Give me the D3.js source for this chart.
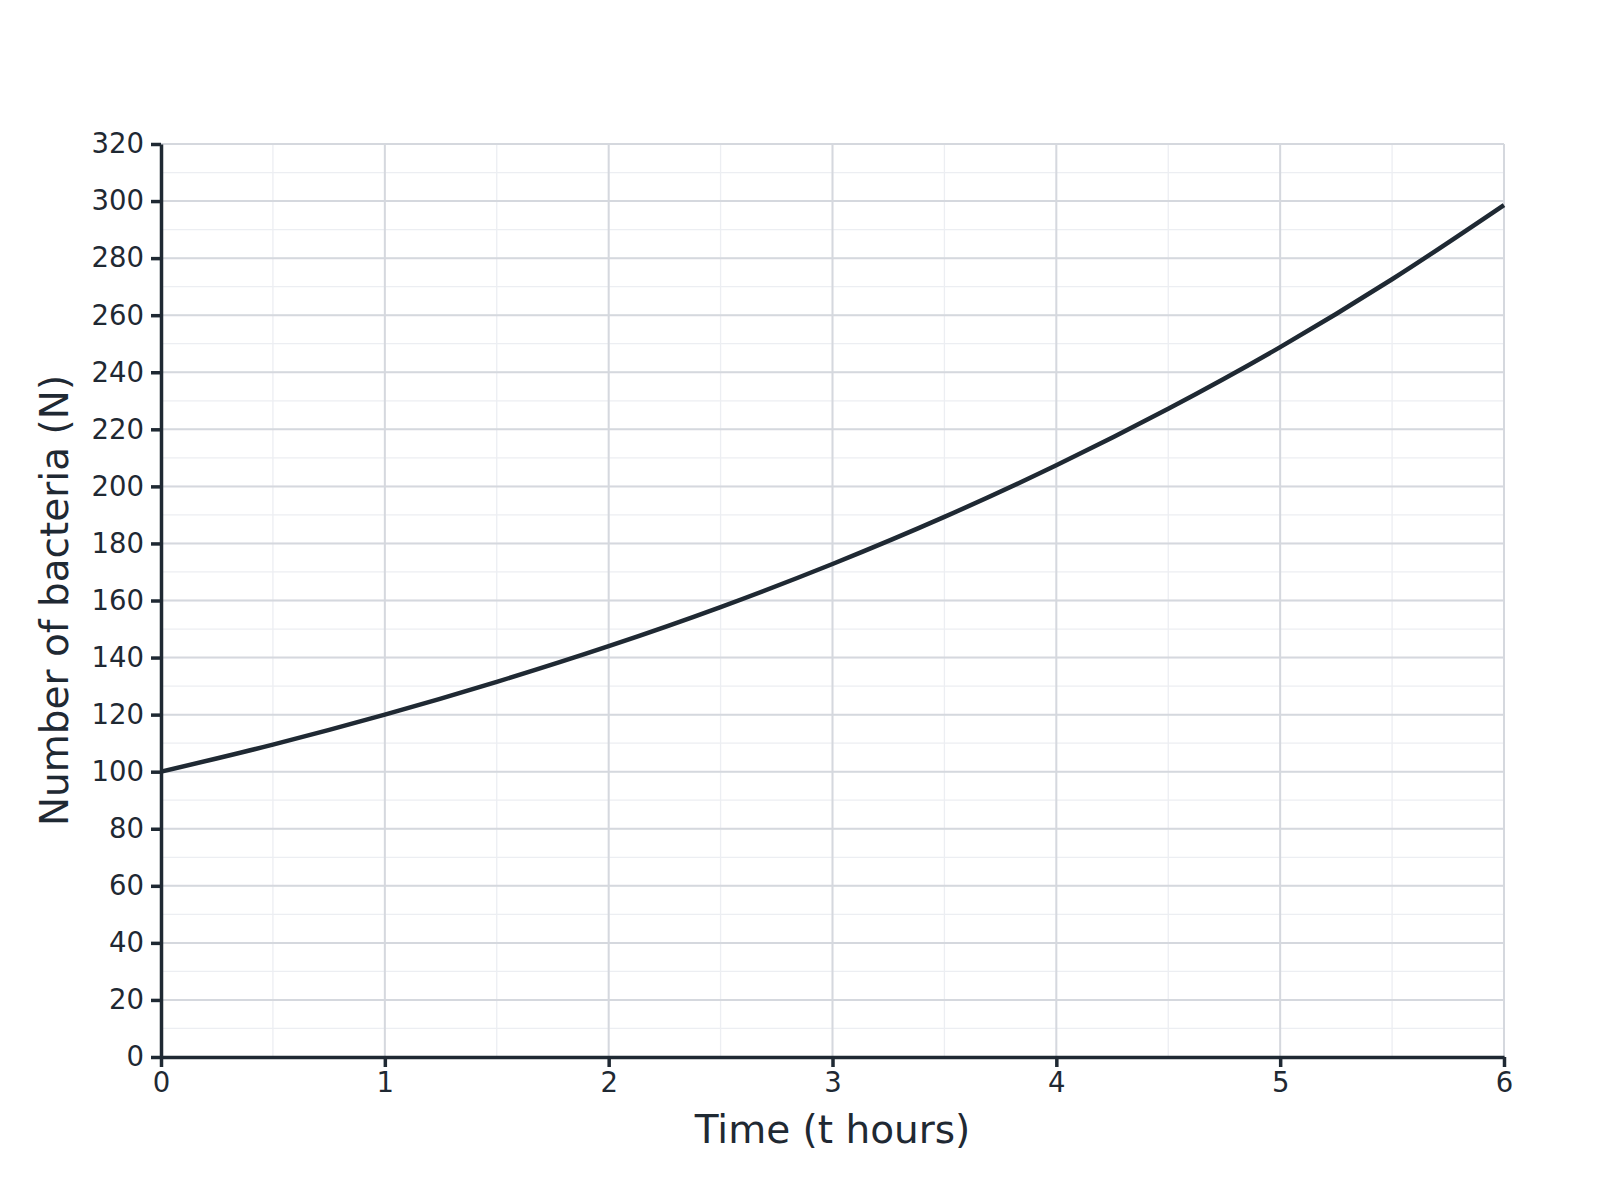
<!DOCTYPE html>
<html>
<head>
<meta charset="utf-8">
<script src="https://cdn.jsdelivr.net/npm/d3@7"></script>
<style>
  html, body { margin:0; padding:0; background:#fff; }
  svg text { font-family: "DejaVu Sans", sans-serif; fill:#1f2933; }
</style>
</head>
<body>
<div id="chart"></div>
<script>
// ====== données
const TIMES  = [0, 0.5, 1, 1.5, 2, 2.5, 3, 3.5, 4, 4.5, 5, 5.5, 6];
const COUNTS = [100, 109.5, 120, 131.5, 144, 157.7, 172.8, 189.3, 207.4, 227.2, 248.8, 272.6, 298.6];
const X_TICKS = [0, 1, 2, 3, 4, 5, 6];
const Y_TICKS = d3.range(0, 321, 20);
const X_MINOR = d3.range(0, 6.01, 0.5);
const Y_MINOR = d3.range(0, 321, 10);

// ====== dimensions
const W = 1600, H = 1200, M = {t:144, r:96, b:143, l:161};
const INK = "#1f2933";

const svg = d3.select("#chart").append("svg")
  .attr("width", W).attr("height", H);

const x = d3.scaleLinear().domain([0, 6]).range([M.l, W - M.r]);
const y = d3.scaleLinear().domain([0, 320]).range([H - M.b, M.t]);

// grille mineure
svg.append("g").selectAll("line").data(X_MINOR).join("line")
  .attr("x1", d => x(d)).attr("x2", d => x(d))
  .attr("y1", M.t).attr("y2", H - M.b)
  .attr("stroke", "#eceef2").attr("stroke-width", 1.3);
svg.append("g").selectAll("line").data(Y_MINOR).join("line")
  .attr("y1", d => y(d)).attr("y2", d => y(d))
  .attr("x1", M.l).attr("x2", W - M.r)
  .attr("stroke", "#eceef2").attr("stroke-width", 1.3);

// grille majeure
svg.append("g").selectAll("line").data(X_TICKS).join("line")
  .attr("x1", d => x(d)).attr("x2", d => x(d))
  .attr("y1", M.t).attr("y2", H - M.b)
  .attr("stroke", "#d5d8de").attr("stroke-width", 2);
svg.append("g").selectAll("line").data(Y_TICKS).join("line")
  .attr("y1", d => y(d)).attr("y2", d => y(d))
  .attr("x1", M.l).attr("x2", W - M.r)
  .attr("stroke", "#d5d8de").attr("stroke-width", 2);

// courbe
const pts = TIMES.map((t, i) => ({t, n: COUNTS[i]}));
svg.append("path")
  .datum(pts)
  .attr("fill", "none")
  .attr("stroke", INK)
  .attr("stroke-width", 4.5)
  .attr("d", d3.line().x(d => x(d.t)).y(d => y(d.n)).curve(d3.curveMonotoneX));

// axes
const xAxis = svg.append("g")
  .attr("transform", `translate(0,${H - M.b})`)
  .call(d3.axisBottom(x).tickValues(X_TICKS).tickFormat(d3.format("d")).tickSize(10).tickPadding(5).tickSizeOuter(0));
const yAxis = svg.append("g")
  .attr("transform", `translate(${M.l},0)`)
  .call(d3.axisLeft(y).tickValues(Y_TICKS).tickFormat(d3.format("d")).tickSize(10).tickPadding(7).tickSizeOuter(0));

[xAxis, yAxis].forEach(a => {
  a.select(".domain").attr("stroke", INK).attr("stroke-width", 3.5);
  a.selectAll(".tick line").attr("stroke", INK).attr("stroke-width", 3.5);
  a.selectAll(".tick text")
    .attr("fill", INK)
    .style("font-family", "DejaVu Sans, sans-serif")
    .style("font-size", "27.5px");
});

// titres d'axes
svg.append("text")
  .attr("x", (M.l + W - M.r) / 2).attr("y", 1143)
  .attr("text-anchor", "middle")
  .style("font-size", "39px")
  .text("Time (t hours)");

svg.append("text")
  .attr("transform", `translate(68,${(M.t + H - M.b) / 2}) rotate(-90)`)
  .attr("text-anchor", "middle")
  .style("font-size", "39px")
  .text("Number of bacteria (N)");
</script>
</body>
</html>
